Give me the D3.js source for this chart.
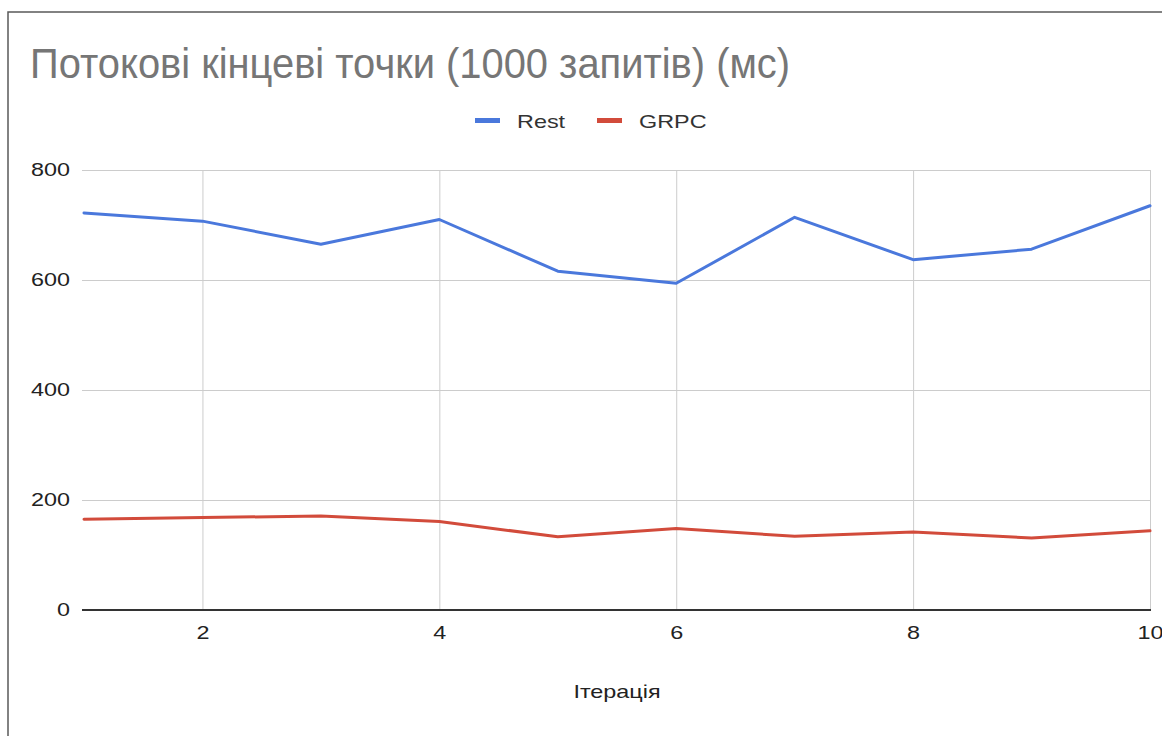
<!DOCTYPE html>
<html>
<head>
<meta charset="utf-8">
<script src="https://cdn.jsdelivr.net/npm/d3@7"></script>
<style>
  html, body { margin: 0; padding: 0; background: #fff; }
  svg { display: block; }
</style>
</head>
<body>
<svg id="chart" width="1162" height="736"></svg>
<script>
// Iteration numbers and response times (ms) for 1000 streamed requests
const iterations = [1, 2, 3, 4, 5, 6, 7, 8, 9, 10];
const restMs = [722, 707, 665, 710, 616, 594, 714, 637, 656, 735];
const grpcMs = [165, 168, 171, 161, 133, 148, 134, 142, 131, 144];
const xTicks = [2, 4, 6, 8, 10];
const yTicks = [0, 200, 400, 600, 800];

const series = [
  { name: "Rest", values: restMs, color: "#4a78dc" },
  { name: "GRPC", values: grpcMs, color: "#d24b3b" }
];

const svg = d3.select("#chart");
const W = 1162, H = 736;
const margin = { left: 84, right: 12, top: 170, bottom: 126 };

const x = d3.scaleLinear().domain([1, 10]).range([margin.left, W - margin.right]);
const y = d3.scaleLinear().domain([0, 800]).range([H - margin.bottom, margin.top]);

const labelFont = "'Liberation Sans', Arial, sans-serif";
const wide = 1.3; // horizontal stretch of the small labels

// Frame around the chart card
svg.append("path")
  .attr("d", `M8,${H + 2} L8,12 L${W + 2},12`)
  .attr("fill", "none")
  .attr("stroke", "#5a5a5a")
  .attr("stroke-width", 1.5);

// Title
svg.append("text")
  .attr("transform", "translate(30,78) scale(0.95,1)")
  .attr("font-family", labelFont)
  .attr("font-size", 42)
  .attr("fill", "#767676")
  .text("Потокові кінцеві точки (1000 запитів) (мс)");

// Legend
const legend = svg.append("g").attr("font-family", labelFont).attr("font-size", 18).attr("fill", "#333");
const legendItems = [{ s: series[0], x: 475 }, { s: series[1], x: 597 }];
legendItems.forEach(({ s, x: lx }) => {
  legend.append("rect")
    .attr("x", lx).attr("y", 118).attr("width", 25).attr("height", 5)
    .attr("fill", s.color);
  legend.append("text")
    .attr("transform", `translate(${lx + 42},128) scale(${wide},1)`)
    .text(s.name);
});

// Horizontal grid lines and y tick labels
const yAxis = d3.axisLeft(y)
  .tickValues(yTicks)
  .tickSize(-(W - margin.right - margin.left + 2))
  .tickPadding(12 / wide)
  .tickFormat(d3.format("d"));
const gy = svg.append("g")
  .attr("transform", `translate(${margin.left - 2},0)`)
  .call(yAxis);
gy.select(".domain").remove();
gy.selectAll(".tick line").attr("stroke", "#cccccc").attr("stroke-width", 1);
gy.selectAll(".tick text")
  .attr("transform", `scale(${wide},1)`)
  .attr("font-family", labelFont)
  .attr("font-size", 18)
  .attr("fill", "#222");

// Vertical grid lines and x tick labels
const xAxis = d3.axisBottom(x)
  .tickValues(xTicks)
  .tickSize(-(H - margin.bottom - margin.top))
  .tickPadding(16)
  .tickFormat(d3.format("d"));
const gx = svg.append("g")
  .attr("transform", `translate(0,${H - margin.bottom})`)
  .call(xAxis);
gx.select(".domain").remove();
gx.selectAll(".tick line").attr("stroke", "#cccccc").attr("stroke-width", 1);
gx.selectAll(".tick text")
  .attr("transform", `scale(${wide},1)`)
  .attr("font-family", labelFont)
  .attr("font-size", 18)
  .attr("fill", "#222");

// Baseline at zero
svg.append("line")
  .attr("x1", margin.left - 2).attr("x2", W - margin.right + 1)
  .attr("y1", y(0)).attr("y2", y(0))
  .attr("stroke", "#333").attr("stroke-width", 2);

// Axis title
svg.append("text")
  .attr("transform", `translate(617,698) scale(${wide},1)`)
  .attr("text-anchor", "middle")
  .attr("font-family", labelFont)
  .attr("font-size", 18)
  .attr("fill", "#222")
  .text("Ітерація");

// Series lines
const line = d3.line()
  .x((d, i) => x(iterations[i]))
  .y(d => y(d));

series.forEach(s => {
  svg.append("path")
    .datum(s.values)
    .attr("d", line)
    .attr("fill", "none")
    .attr("stroke", s.color)
    .attr("stroke-width", 3)
    .attr("stroke-linejoin", "round")
    .attr("stroke-linecap", "round");
});
</script>
</body>
</html>
